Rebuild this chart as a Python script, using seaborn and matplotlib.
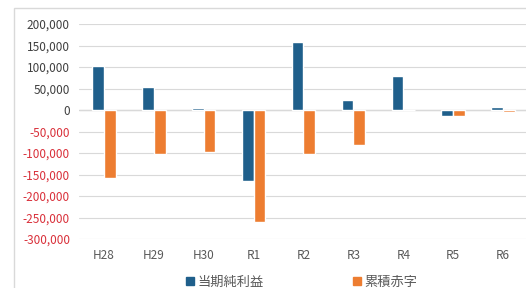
import pandas as pd
import matplotlib.pyplot as plt
import matplotlib.ticker as mticker
from matplotlib.patches import Rectangle
import seaborn as sns

# ===== データ =====
years = ['H28', 'H29', 'H30', 'R1', 'R2', 'R3', 'R4', 'R5', 'R6']
net_income = [102000, 54000, 4000, -166000, 158000, 23000, 79000, -13000, 7000]
cum_deficit = [-158000, -102000, -97000, -261000, -103000, -82000, 0, -14000, -4000]
series_names = ['当期純利益', '累積赤字']
colors = ['#1f5f8b', '#ed7d31']
y_ticks = list(range(-300000, 200001, 50000))

sns.set_theme(style='white')
plt.rcParams['font.family'] = ['Noto Sans CJK JP', 'DejaVu Sans']

df = pd.DataFrame({
    '年度': years * 2,
    '金額': net_income + cum_deficit,
    '区分': [series_names[0]] * len(years) + [series_names[1]] * len(years),
})

fig = plt.figure(figsize=(5.26, 2.88), dpi=100)
# チャート枠
fig.patches.append(Rectangle((14 / 526, -0.05), 1.2, 1.05 - 8 / 288,
                             transform=fig.transFigure, fill=False,
                             edgecolor='#d9d9d9', linewidth=1.0))

ax = fig.add_axes([79 / 526, 49 / 288, 1 - 79 / 526, (239 - 24) / 288])
sns.barplot(data=df, x='年度', y='金額', hue='区分', palette=colors,
            width=0.47, ax=ax, legend=False, saturation=1)

ax.set_ylim(-300000, 200000)
ax.set_xlim(-0.5, 8.5 + (526 - 528) / 50)
ax.set_yticks(y_ticks)
ax.yaxis.set_major_formatter(mticker.FuncFormatter(lambda v, p: f'{int(v):,}'))
ax.grid(axis='y', color='#d9d9d9', linewidth=0.8)
ax.set_axisbelow(True)
ax.axhline(0, color='#bfbfbf', linewidth=0.9, zorder=0.5)
for s in ax.spines.values():
    s.set_visible(False)
ax.set_xlabel('')
ax.set_ylabel('')
ax.tick_params(axis='y', labelsize=8.5, pad=6.5, length=0)
ax.tick_params(axis='x', labelsize=8.5, pad=7, length=0, colors='#595959')
for lab, v in zip(ax.get_yticklabels(), y_ticks):
    lab.set_color('#d9303a' if v < 0 else '#404040')

handles = [Rectangle((0, 0), 1, 1, color=c) for c in colors]
fig.legend(handles, series_names, loc='center', bbox_to_anchor=(302 / 526, 6 / 288),
           ncol=2, frameon=False, fontsize=9.5, handlelength=0.55, handleheight=0.55,
           handletextpad=0.3, columnspacing=6.8, labelcolor='#595959')

fig.savefig('out.png', dpi=100)
